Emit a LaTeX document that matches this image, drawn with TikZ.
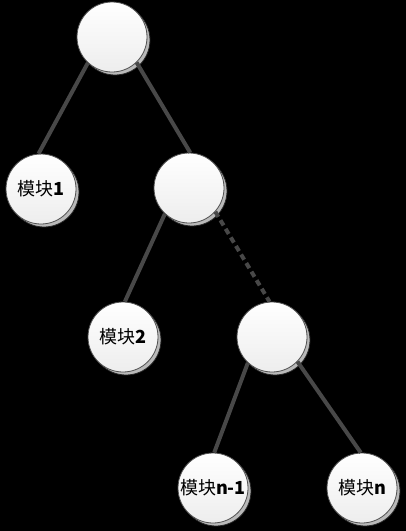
\documentclass[tikz,border=0pt]{standalone}
\usepackage{fontspec}
\newfontfamily\cjk{Noto Sans CJK SC}
\usetikzlibrary{shadows}
\definecolor{linec}{RGB}{72,72,72}
\definecolor{rimc}{RGB}{80,80,80}
\begin{document}
\begin{tikzpicture}[x=1pt,y=-1pt,
  nd/.style={circle, minimum size=70pt, inner sep=0pt, draw=rimc, line width=0.8pt,
    top color=white, bottom color=black!7,
    general shadow={shadow xshift=3pt, shadow yshift=-3pt, fill=gray!55, draw=gray!30!black, line width=0.8pt},
    font=\cjk\fontsize{18}{21}\selectfont},
  conn/.style={draw=linec, line width=4pt},
  dconn/.style={draw=linec, line width=4pt, dash pattern=on 6pt off 4pt}]
\fill[black] (0,0) rectangle (406,531);
\useasboundingbox (0,0) rectangle (406,531);
\node[nd] (root) at (112,37) {};
\node[nd] (m1) at (41,189) {模块\textbf{1}};
\node[nd] (mid) at (189,188) {};
\node[nd] (m2) at (123,337) {模块\textbf{2}};
\node[nd] (low) at (272,337) {};
\node[nd] (mn1) at (213,488) {模块\textbf{n-1}};
\node[nd] (mn) at (362,488) {模块\textbf{n}};
\draw[conn] (root.227) -- (m1.94);
\draw[conn] (root.314) -- (mid.88);
\draw[conn] (mid.227) -- (m2.87);
\draw[dconn] (mid.318) -- (low.94);
\draw[conn] (low.227) -- (mn1.88);
\draw[conn] (low.316) -- (mn.92);
\end{tikzpicture}
\end{document}
